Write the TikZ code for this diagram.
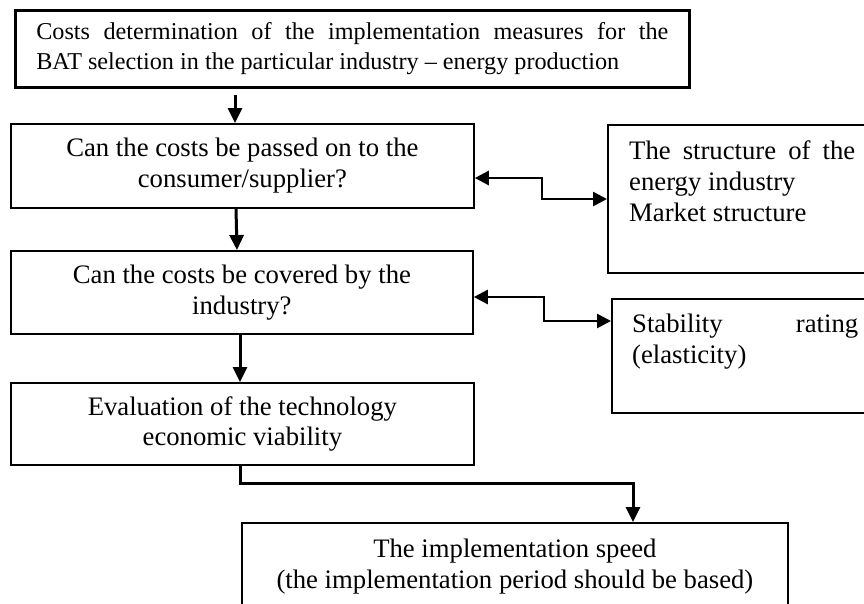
\documentclass[tikz,border=0pt]{standalone}
\usepackage{fontspec}
\setmainfont{Liberation Serif}
\usetikzlibrary{arrows.meta,calc}
\newcommand\myfontA{\fontsize{26.7}{30.7}\selectfont}
\newcommand\myfontT{\fontsize{24.2}{30.2}\selectfont}
\begin{document}
\begin{tikzpicture}[x=1pt,y=-1pt,
  box/.style={draw, line width=1.8pt, inner sep=0pt, align=center, font=\myfontA},
  rtext/.style={inner sep=0pt, align=left, font=\myfontA},
  varr/.style={line width=3pt, -{Triangle[length=15pt,width=14pt]}},
  barr/.style={line width=2.6pt, {Triangle[length=14pt,width=14pt]}-{Triangle[length=14pt,width=14pt]}}]
\useasboundingbox (0,0) rectangle (864,603);
\clip (0,0) rectangle (864,603);
\fill[white] (0,0) rectangle (864,603);

\node[box, line width=2.6pt, minimum width=674pt, minimum height=77pt, anchor=north west, align=left, font=\myfontT] (top) at (14,9)
  {\makebox[632pt][s]{Costs determination of the implementation measures for the}\\BAT selection in the particular industry – energy production};

\node[box, minimum width=463pt, minimum height=84pt, anchor=north west] (b2) at (10,123)
  {Can the costs be passed on to the\\consumer/supplier?};
\node[box, minimum width=462pt, minimum height=83pt, anchor=north west] (b3) at (10,250)
  {Can the costs be covered by the\\industry?};
\node[box, minimum width=463pt, minimum height=82pt, anchor=north west] (b4) at (10,382)
  {Evaluation of the technology\\economic viability};
\node[box, minimum width=546pt, minimum height=88pt, anchor=north west] (b5) at (241,522)
  {The implementation speed\\(the implementation period should be based)};

\node[box, minimum width=270pt, minimum height=148pt, anchor=north west] (r1) at (607,124) {};
\node[rtext, anchor=north west] (r1t) at ($(r1.north west)+(22,16.8)$)
  {\makebox[226pt][s]{The structure of the}\\energy industry\\Market structure};
\node[box, minimum width=270pt, minimum height=114pt, anchor=north west] (r2) at (611,298) {};
\node[rtext, anchor=north west] (r2t) at ($(r2.north west)+(21,15.8)$)
  {\makebox[226pt][s]{Stability rating}\\(elasticity)};

\draw[varr] ($(top.south west)+(221,6)$) -- ($(b2.north west)+(225,0)$);
\draw[varr] ($(b2.south west)+(226,0)$) -- ($(b3.north west)+(227,0)$);
\draw[varr] ($(b3.south west)+(230,0)$) -- ($(b4.north west)+(230,0)$);
\draw[varr] ($(b4.south west)+(230,0)$) -- ++(0,18) -| ($(b5.north west)+(392,0)$);

\draw[barr] ($(b2.north east)+(0,55)$) -- ++(67,0) |- ($(r1.north west)+(0,75)$);
\draw[barr] ($(b3.north east)+(0,47)$) -- ++(70,0) |- ($(r2.north west)+(0,23)$);
\end{tikzpicture}
\end{document}
